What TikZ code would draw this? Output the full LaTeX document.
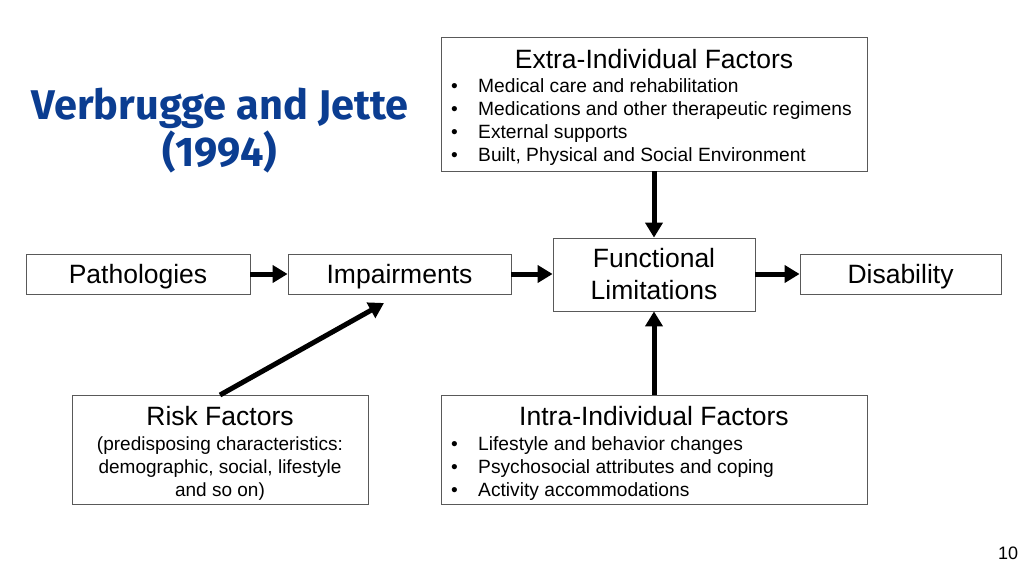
\documentclass[tikz,border=0pt]{standalone}
\usepackage{fontspec}
\setmainfont{Liberation Sans}
\newfontfamily\titlefont{Fira Sans}
\usetikzlibrary{arrows.meta}
\definecolor{titleblue}{HTML}{0B3D91}
\begin{document}
\begin{tikzpicture}[x=1pt,y=-1pt,
  box/.style={draw=black!65,line width=0.8pt,fill=white,inner sep=0pt},
  big/.style={font=\fontsize{26.5}{31}\selectfont},
  arr/.style={line width=5pt,-{Triangle[length=15pt,width=17pt]}},
  txt/.style={inner sep=0pt,anchor=base}]
\useasboundingbox (0,0) rectangle (1024,576);
% title
\node[font=\titlefont\bfseries\fontsize{41.5}{47}\selectfont,text=titleblue,align=center,inner sep=0pt] (title) at (220,131) {Verbrugge and Jette\\(1994)};
% boxes
\node[box,minimum width=426pt,minimum height=134pt] (extra) at (654,104) {};
\node[box,minimum width=224pt,minimum height=40pt,big,text depth=0pt] (path) at (138,274) {Pathologies};
\node[box,minimum width=223pt,minimum height=40pt,big,text depth=0pt] (imp) at (399.5,274) {Impairments};
\node[box,minimum width=202pt,minimum height=73pt,big,align=center] (fl) at (654,274.5) {Functional\\[1pt]Limitations};
\node[box,minimum width=201pt,minimum height=40pt,big,text depth=0pt] (dis) at (900.5,274) {Disability};
\node[box,minimum width=296pt,minimum height=109pt] (risk) at (220,449.5) {};
\node[box,minimum width=426pt,minimum height=109pt] (intra) at (654,449.5) {};
% extra text
\node[txt,big] (extraT) at (654,68) {Extra-Individual Factors};
\begin{scope}[every node/.style={txt,anchor=base west,font=\fontsize{19.2}{23}\selectfont}]
\node (eb1) at (451,92.5) {•}; \node (e1) at (478,92.5) {Medical care and rehabilitation};
\node (eb2) at (451,115.5) {•}; \node (e2) at (478,115.5) {Medications and other therapeutic regimens};
\node (eb3) at (451,138.5) {•}; \node (e3) at (478,138.5) {External supports};
\node (eb4) at (451,161.5) {•}; \node (e4) at (478,161.5) {Built, Physical and Social Environment};
\node (ib1) at (451,450) {•}; \node (i1) at (478,450) {Lifestyle and behavior changes};
\node (ib2) at (451,473) {•}; \node (i2) at (478,473) {Psychosocial attributes and coping};
\node (ib3) at (451,496) {•}; \node (i3) at (478,496) {Activity accommodations};
\end{scope}
\node[txt,big] (intraT) at (654,425.5) {Intra-Individual Factors};
\node[txt,big] (riskT) at (220,425.5) {Risk Factors};
\begin{scope}[every node/.style={txt,font=\fontsize{19}{23}\selectfont}]
\node (r1) at (220,450) {(predisposing characteristics:};
\node (r2) at (220,473) {demographic, social, lifestyle};
\node (r3) at (220,496) {and so on)};
\end{scope}
\node[txt,font=\fontsize{18}{20}\selectfont] (pg) at (1008,559) {10};
% arrows
\draw[arr] (path.east) -- (imp.west);
\draw[arr] (imp.east) -- (fl.west |- imp.east);
\draw[arr] (fl.east |- dis.west) -- (dis.west);
\draw[arr] (extra.south) -- (fl.north);
\draw[arr] (intra.north) -- (fl.south);
\coordinate (rs) at (220,395);
\coordinate (rt) at (384,303);
\draw[arr] (rs) -- (rt);
\end{tikzpicture}
\end{document}
